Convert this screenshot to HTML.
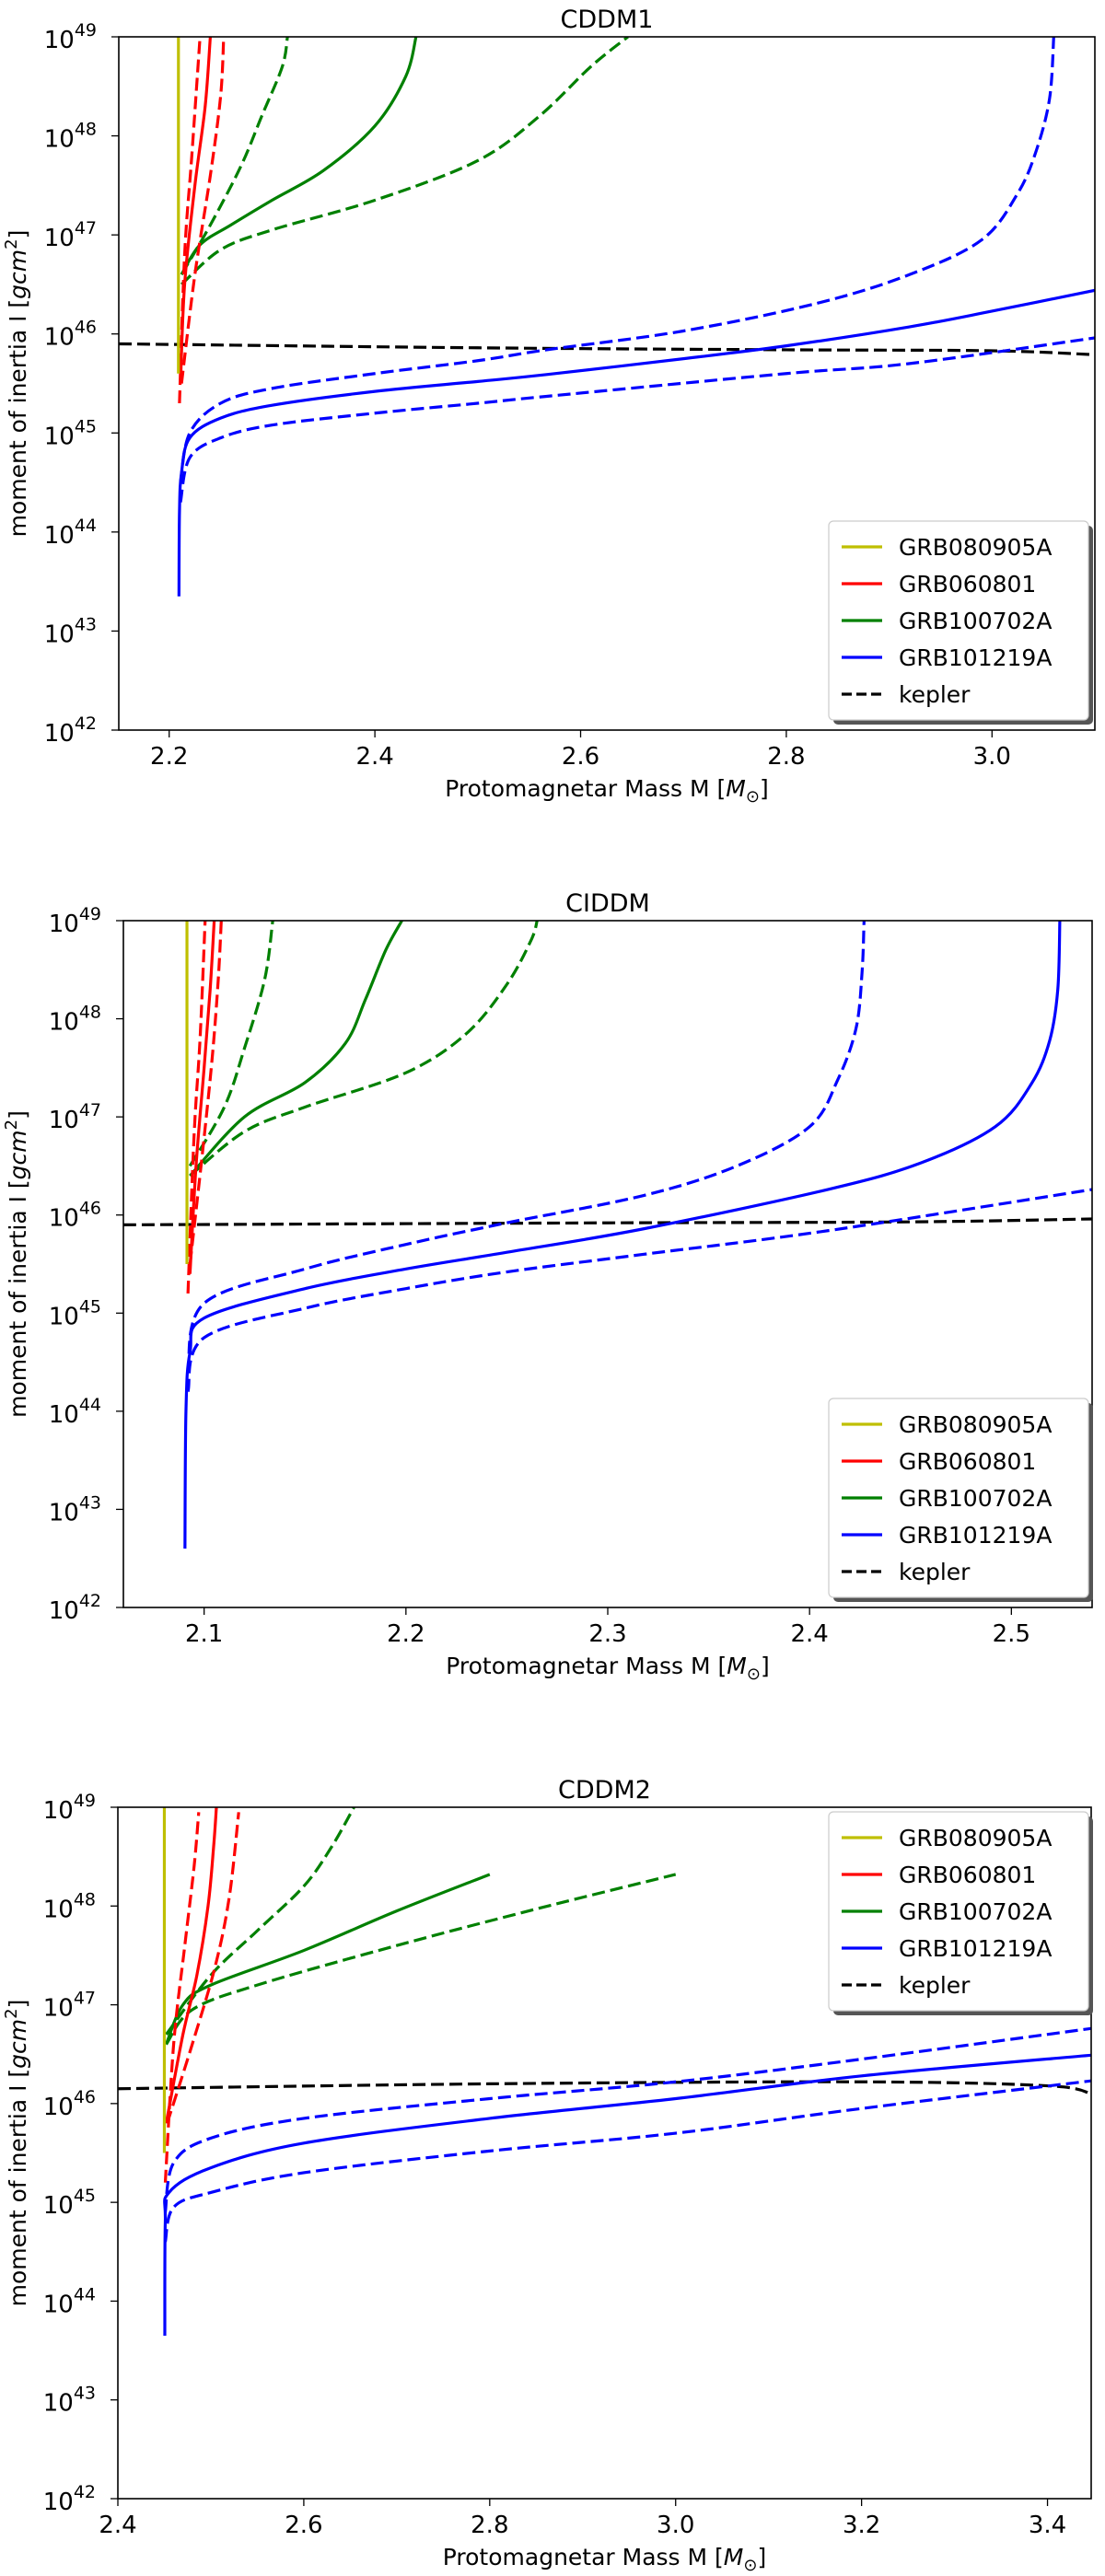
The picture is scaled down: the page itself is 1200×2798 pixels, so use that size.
<!DOCTYPE html>
<html><head><meta charset="utf-8"><style>
html,body{margin:0;padding:0;background:#fff}
svg{display:block}
text{font-family:"DejaVu Sans","Liberation Sans",sans-serif;fill:#000}
</style></head><body>
<svg id="fig" width="1200" height="2798" viewBox="0 0 1200 2798" xmlns="http://www.w3.org/2000/svg"></svg>
<script>
// ---- data (M in solar masses, log10 I) ----
const seriesNames = ["GRB080905A","GRB060801","GRB100702A","GRB101219A","kepler"];
const seriesColors = ["#bfbf00","#ff0000","#008000","#0000ff","#000000"];

// Panel 1: CDDM1
const p1_yellow = [[2.209,45.6],[2.209,49]];
const p1_redSolid = [[2.211,45.5],[2.215,46.5],[2.225,47.5],[2.235,48.3],[2.24,49]];
const p1_redDashL = [[2.210,45.3],[2.215,46.8],[2.222,47.8],[2.23,49]];
const p1_redDashR = [[2.212,45.5],[2.225,46.6],[2.24,47.6],[2.25,48.4],[2.253,49]];
const p1_greenSolid = [[2.212,46.6],[2.23,46.9],[2.26,47.1],[2.3,47.35],[2.35,47.65],[2.4,48.1],[2.43,48.6],[2.44,49]];
const p1_greenDashL = [[2.212,46.6],[2.24,47.1],[2.27,47.7],[2.29,48.2],[2.31,48.7],[2.315,49]];
const p1_greenDashR = [[2.212,46.5],[2.25,46.85],[2.3,47.05],[2.4,47.35],[2.5,47.75],[2.56,48.2],[2.61,48.7],[2.646,49]];
const p1_blueSolid = [[2.2095,43.35],[2.21,44.2],[2.212,44.6],[2.22,44.95],[2.25,45.15],[2.3,45.28],[2.4,45.42],[2.5,45.52],[2.567,45.59],[2.7,45.75],[2.8,45.88],[2.919,46.07],[3.0,46.23],[3.1,46.44]];
const p1_blueDashU = [[2.211,44.5],[2.22,45.0],[2.25,45.3],[2.3,45.45],[2.4,45.6],[2.5,45.73],[2.567,45.84],[2.7,46.03],[2.83,46.31],[2.92,46.6],[2.99,46.95],[3.025,47.42],[3.043,47.85],[3.056,48.38],[3.060,49]];
const p1_blueDashL = [[2.211,44.3],[2.22,44.75],[2.25,44.95],[2.3,45.08],[2.4,45.2],[2.5,45.3],[2.567,45.37],[2.8,45.6],[2.919,45.7],[3.1,45.96]];
const p1_kepler = [[2.151,45.9],[2.5,45.86],[2.8,45.84],[3.0,45.83],[3.1,45.79]];

// Panel 2: CIDDM
const p2_yellow = [[2.0915,45.5],[2.0915,49]];
const p2_redSolid = [[2.093,45.4],[2.096,46.5],[2.1,47.5],[2.103,48.3],[2.105,49]];
const p2_redDashL = [[2.092,45.2],[2.095,46.8],[2.098,47.8],[2.1005,49]];
const p2_redDashR = [[2.093,45.5],[2.099,46.6],[2.104,47.6],[2.107,48.4],[2.1085,49]];
const p2_greenSolid = [[2.093,46.4],[2.12,47.0],[2.15,47.35],[2.17,47.75],[2.18,48.2],[2.19,48.7],[2.198,49]];
const p2_greenDashL = [[2.093,46.5],[2.11,47.1],[2.12,47.7],[2.13,48.4],[2.134,49]];
const p2_greenDashR = [[2.093,46.4],[2.12,46.85],[2.15,47.1],[2.2,47.45],[2.23,47.85],[2.25,48.35],[2.262,48.8],[2.265,49]];
const p2_blueSolid = [[2.0905,42.6],[2.091,44.0],[2.093,44.6],[2.1,44.95],[2.15,45.25],[2.2,45.45],[2.25,45.62],[2.318,45.86],[2.409,46.26],[2.455,46.53],[2.492,46.9],[2.51,47.34],[2.519,47.78],[2.523,48.3],[2.524,49]];
const p2_blueDashU = [[2.092,44.4],[2.1,45.1],[2.15,45.45],[2.2,45.7],[2.25,45.92],[2.318,46.2],[2.364,46.5],[2.400,46.9],[2.414,47.38],[2.423,47.9],[2.426,48.47],[2.427,49]];
const p2_blueDashL = [[2.092,44.2],[2.1,44.75],[2.15,45.05],[2.2,45.25],[2.25,45.42],[2.318,45.6],[2.409,45.84],[2.54,46.26]];
const p2_kepler = [[2.060,45.9],[2.3,45.92],[2.45,45.93],[2.54,45.96]];

// Panel 3: CDDM2
const p3_yellow = [[2.45,45.5],[2.45,49]];
const p3_redSolid = [[2.452,45.8],[2.47,46.7],[2.485,47.3],[2.497,48.0],[2.503,48.6],[2.506,49]];
const p3_redDashL = [[2.451,45.2],[2.46,46.6],[2.472,47.6],[2.482,48.4],[2.487,48.95]];
const p3_redDashR = [[2.453,45.8],[2.48,46.6],[2.505,47.4],[2.52,48.1],[2.53,48.95]];
const p3_greenSolid = [[2.452,46.6],[2.47,47.0],[2.5,47.2],[2.6,47.55],[2.7,47.95],[2.8,48.32]];
const p3_greenDashL = [[2.452,46.7],[2.5,47.3],[2.55,47.75],[2.6,48.2],[2.63,48.6],[2.654,49]];
const p3_greenDashR = [[2.452,46.6],[2.48,46.95],[2.55,47.2],[2.7,47.6],[2.85,47.97],[3.0,48.32]];
const p3_blueSolid = [[2.4505,43.65],[2.451,44.8],[2.455,45.1],[2.5,45.35],[2.6,45.6],[2.8,45.85],[3.0,46.05],[3.2,46.28],[3.447,46.49]];
const p3_blueDashU = [[2.451,44.9],[2.46,45.4],[2.5,45.65],[2.6,45.85],[2.8,46.05],[3.0,46.22],[3.2,46.45],[3.447,46.76]];
const p3_blueDashL = [[2.451,44.6],[2.46,44.95],[2.5,45.1],[2.6,45.3],[2.8,45.52],[3.0,45.7],[3.2,45.95],[3.447,46.23]];
const p3_kepler = [[2.4,46.15],[2.8,46.2],[3.2,46.22],[3.4,46.18],[3.447,46.1]];

const p1_xticks = [2.2,2.4,2.6,2.8,3.0];
const p2_xticks = [2.1,2.2,2.3,2.4,2.5];
const p3_xticks = [2.4,2.6,2.8,3.0,3.2,3.4];
const yTickExps = [42,43,44,45,46,47,48,49];

const NS = "http://www.w3.org/2000/svg";
const svg = document.getElementById("fig");
function el(tag, attrs, parent){const e=document.createElementNS(NS,tag);for(const k in attrs)e.setAttribute(k,attrs[k]);(parent||svg).appendChild(e);return e;}

function catmull(pts){
  let d="M"+pts[0][0].toFixed(2)+","+pts[0][1].toFixed(2);
  for(let i=0;i<pts.length-1;i++){
    const p0=pts[Math.max(0,i-1)],p1=pts[i],p2=pts[i+1],p3=pts[Math.min(pts.length-1,i+2)];
    const c1=[p1[0]+(p2[0]-p0[0])/6,p1[1]+(p2[1]-p0[1])/6];
    const c2=[p2[0]-(p3[0]-p1[0])/6,p2[1]-(p3[1]-p1[1])/6];
    d+=" C"+c1[0].toFixed(2)+","+c1[1].toFixed(2)+" "+c2[0].toFixed(2)+","+c2[1].toFixed(2)+" "+p2[0].toFixed(2)+","+p2[1].toFixed(2);
  }
  return d;
}

function panel(cfg){
  const g=el("g",{});
  
  
  const L=cfg.left,R=cfg.right,T=cfg.top,B=cfg.bottom;
  const xs=v=>L+(v-cfg.xmin)/(cfg.xmax-cfg.xmin)*(R-L);
  const ys=v=>T+(49-v)/7*(B-T);
  const cp=el("clipPath",{id:"clip"+cfg.id},g);
  el("rect",{x:L,y:T,width:R-L,height:B-T},cp);
  const lines=el("g",{"clip-path":"url(#clip"+cfg.id+")"},g);
  cfg.series.forEach(s=>{
    const pts=s.data.map(p=>[xs(p[0]),ys(p[1])]);
    const path=el("path",{d:catmull(pts),fill:"none",stroke:s.color,"stroke-width":3.2,"stroke-linejoin":"round"},lines);
    if(s.dash) path.setAttribute("stroke-dasharray","14,6");
    
    
  });
  el("rect",{x:L,y:T,width:R-L,height:B-T,fill:"none",stroke:"#000","stroke-width":1.6},g);
  yTickExps.forEach(e=>{
    const y=ys(e);
    el("line",{x1:L-8,x2:L,y1:y,y2:y,stroke:"#000","stroke-width":1.3},g);
    const t=el("text",{x:L-24,y:y+12,"text-anchor":"end","font-size":"26"},g);
    t.textContent="10";
    const s=el("tspan",{dy:"-13","font-size":"19"},t);s.textContent=String(e);
    
    
  });
  cfg.xticks.forEach(v=>{
    const x=xs(v);
    el("line",{x1:x,x2:x,y1:B,y2:B+8,stroke:"#000","stroke-width":1.3},g);
    const t=el("text",{x:x,y:B+37,"text-anchor":"middle","font-size":"26"},g);
    t.textContent=v.toFixed(1);
    
    
  });
  const title=el("text",{x:(L+R)/2,y:T-10,"text-anchor":"middle","font-size":"27"},g);
  title.textContent=cfg.title;
  
  
  const xl=el("text",{x:(L+R)/2,y:B+72,"text-anchor":"middle","font-size":"25"},g);
  xl.innerHTML='Protomagnetar Mass M [<tspan font-style="italic">M</tspan><tspan font-size="18" dy="6">⊙</tspan><tspan dy="-6">]</tspan>';
  
  
  const yl=el("text",{x:0,y:0,"text-anchor":"middle","font-size":"25",transform:"translate(28,"+((T+B)/2)+") rotate(-90)"},g);
  yl.innerHTML='moment of inertia I [<tspan font-style="italic">gcm</tspan><tspan font-size="18" dy="-10">2</tspan><tspan dy="10">]</tspan>';
  
  
  const lg=el("g",{},g);
  
  
  const lx=cfg.legX,ly=cfg.legY,lw=282,lh=216;
  el("rect",{x:lx+5,y:ly+5,width:lw,height:lh,rx:5,fill:"#555"},lg);
  el("rect",{x:lx,y:ly,width:lw,height:lh,rx:5,fill:"#fff",stroke:"#ccc","stroke-width":1.2},lg);
  seriesNames.forEach((n,i)=>{
    const y=ly+28+i*40;
    const ent=el("g",{},lg);
    
    
    const ln=el("line",{x1:lx+14,x2:lx+58,y1:y,y2:y,stroke:seriesColors[i],"stroke-width":3.2},ent);
    if(n==="kepler") ln.setAttribute("stroke-dasharray","11,5");
    const t=el("text",{x:lx+76,y:y+9,"font-size":"25"},ent);
    t.textContent=n;
  });
}

function build(k,bs,bu,bl,gs,gl,gr,rs,rl,rr,y){
  return [
    {name:"kepler-line",data:k,color:"#000",dash:true},
    {name:"grb101219a-solid",data:bs,color:"#0000ff"},
    {name:"grb101219a-dashed-upper",data:bu,color:"#0000ff",dash:true},
    {name:"grb101219a-dashed-lower",data:bl,color:"#0000ff",dash:true},
    {name:"grb100702a-solid",data:gs,color:"#008000"},
    {name:"grb100702a-dashed-left",data:gl,color:"#008000",dash:true},
    {name:"grb100702a-dashed-right",data:gr,color:"#008000",dash:true},
    {name:"grb060801-solid",data:rs,color:"#ff0000"},
    {name:"grb060801-dashed-left",data:rl,color:"#ff0000",dash:true},
    {name:"grb060801-dashed-right",data:rr,color:"#ff0000",dash:true},
    {name:"grb080905a-line",data:y,color:"#bfbf00"}];
}
const S1=build(p1_kepler,p1_blueSolid,p1_blueDashU,p1_blueDashL,p1_greenSolid,p1_greenDashL,p1_greenDashR,p1_redSolid,p1_redDashL,p1_redDashR,p1_yellow);
const S2=build(p2_kepler,p2_blueSolid,p2_blueDashU,p2_blueDashL,p2_greenSolid,p2_greenDashL,p2_greenDashR,p2_redSolid,p2_redDashL,p2_redDashR,p2_yellow);
const S3=build(p3_kepler,p3_blueSolid,p3_blueDashU,p3_blueDashL,p3_greenSolid,p3_greenDashL,p3_greenDashR,p3_redSolid,p3_redDashL,p3_redDashR,p3_yellow);

panel({id:"cddm1",title:"CDDM1",left:129,right:1189,top:40,bottom:793,xmin:2.151,xmax:3.100,xticks:p1_xticks,series:S1,legX:900,legY:566});
panel({id:"ciddm",title:"CIDDM",left:134,right:1186,top:1000,bottom:1746,xmin:2.060,xmax:2.540,xticks:p2_xticks,series:S2,legX:900,legY:1519});
panel({id:"cddm2",title:"CDDM2",left:128,right:1185,top:1963,bottom:2714,xmin:2.4,xmax:3.447,xticks:p3_xticks,series:S3,legX:900,legY:1968});
</script>
</body></html>
